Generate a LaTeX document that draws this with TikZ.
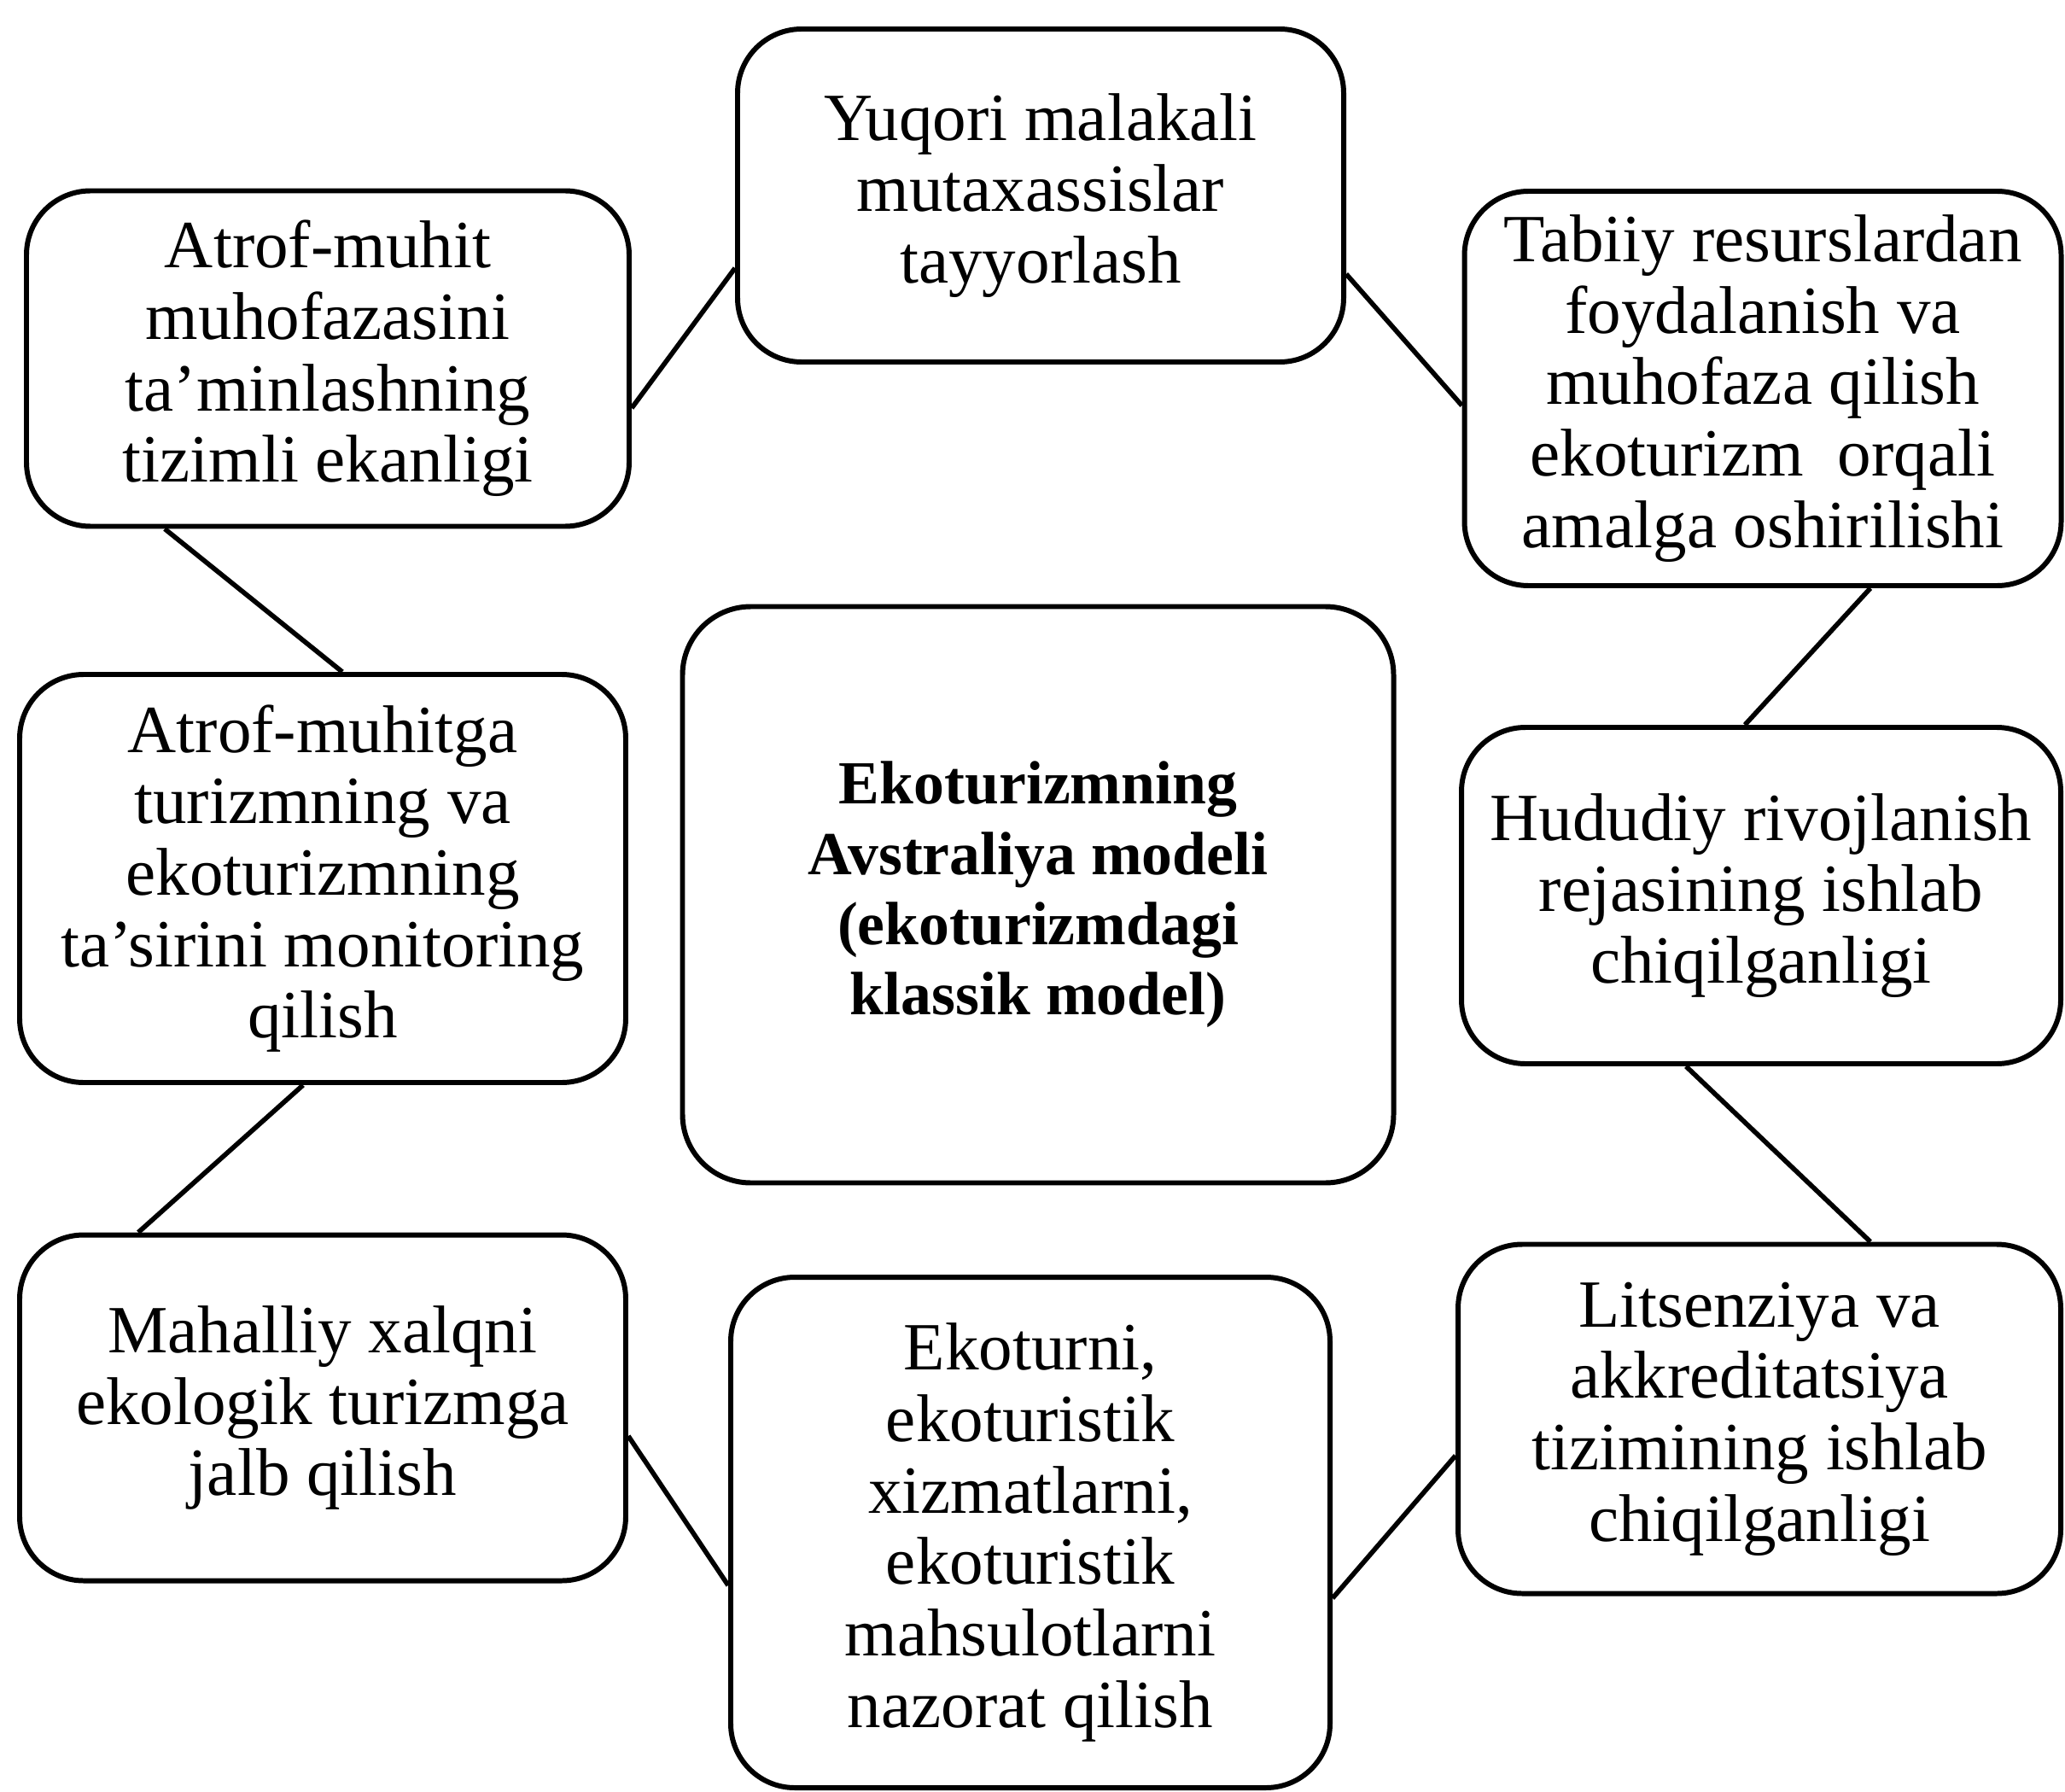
\documentclass[tikz,border=0pt]{standalone}
\usepackage{fontspec}
\setmainfont{Liberation Serif}
\usepackage{tikz}

\begin{document}
\begin{tikzpicture}[
  box/.style = {rectangle, draw, rounded corners=0.75cm, align=center,
                line width=1.7pt, inner sep=4pt,
                font=\fontsize{22.5}{23.8}\selectfont},
  link/.style = {line width=1.6pt}
]
\useasboundingbox (0,0) rectangle (24.19,-20.99);

\node[box, minimum width=7.10cm, minimum height=3.90cm] (kadr) at (12.19,-2.29)
  {Yuqori malakali\\mutaxassislar\\tayyorlash};
\node[box, minimum width=7.06cm, minimum height=3.93cm] (atrof) at (3.84,-4.20)
  {Atrof-muhit\\muhofazasini\\ta’minlashning\\tizimli ekanligi};
\node[box, minimum width=6.99cm, minimum height=4.62cm] (tabiiy) at (20.65,-4.55)
  {Tabiiy resurslardan\\foydalanish va\\muhofaza qilish\\ekoturizm\ \ orqali\\amalga oshirilishi};

\node[box, minimum width=7.10cm, minimum height=4.78cm] (monitor) at (3.78,-10.29)
  {Atrof-muhitga\\turizmning va\\ekoturizmning\\ta’sirini monitoring\\qilish};
\node[box, minimum width=8.33cm, minimum height=6.75cm, rounded corners=0.8cm,
      font=\fontsize{20.4}{23.4}\selectfont\bfseries] (model) at (12.16,-10.48)
  {Ekoturizmning\\Avstraliya modeli\\(ekoturizmdagi\\klassik model)};
\node[box, minimum width=7.02cm, minimum height=3.94cm] (reja) at (20.63,-10.49)
  {Hududiy rivojlanish\\rejasining ishlab\\chiqilganligi};

\node[box, minimum width=7.10cm, minimum height=4.05cm] (xalq) at (3.78,-16.49)
  {Mahalliy xalqni\\ekologik turizmga\\jalb qilish};
\node[box, minimum width=7.02cm, minimum height=5.98cm] (nazorat) at (12.07,-17.95)
  {Ekoturni,\\ekoturistik\\xizmatlarni,\\ekoturistik\\mahsulotlarni\\nazorat qilish};
\node[box, minimum width=7.06cm, minimum height=4.09cm] (litsenz) at (20.61,-16.62)
  {Litsenziya va\\akkreditatsiya\\tizimining ishlab\\chiqilganligi};

\draw[link] ([yshift=-0.58cm]atrof.east)   -- ([yshift=-0.85cm]kadr.west);
\draw[link] ([yshift=-0.92cm]kadr.east)    -- ([yshift=-0.20cm]tabiiy.west);
\draw[link] ([xshift=1.26cm]tabiiy.south)  -- ([xshift=-0.19cm]reja.north);
\draw[link] ([xshift=-0.88cm]reja.south)   -- ([xshift=1.30cm]litsenz.north);
\draw[link] ([yshift=-0.43cm]litsenz.west) -- ([yshift=-0.77cm]nazorat.east);
\draw[link] ([yshift=-0.62cm]nazorat.west) -- ([yshift=-0.33cm]xalq.east);
\draw[link] ([xshift=-2.16cm]xalq.north)   -- ([xshift=-0.23cm]monitor.south);
\draw[link] ([xshift=0.23cm]monitor.north) -- ([xshift=-1.91cm]atrof.south);
\end{tikzpicture}
\end{document}
